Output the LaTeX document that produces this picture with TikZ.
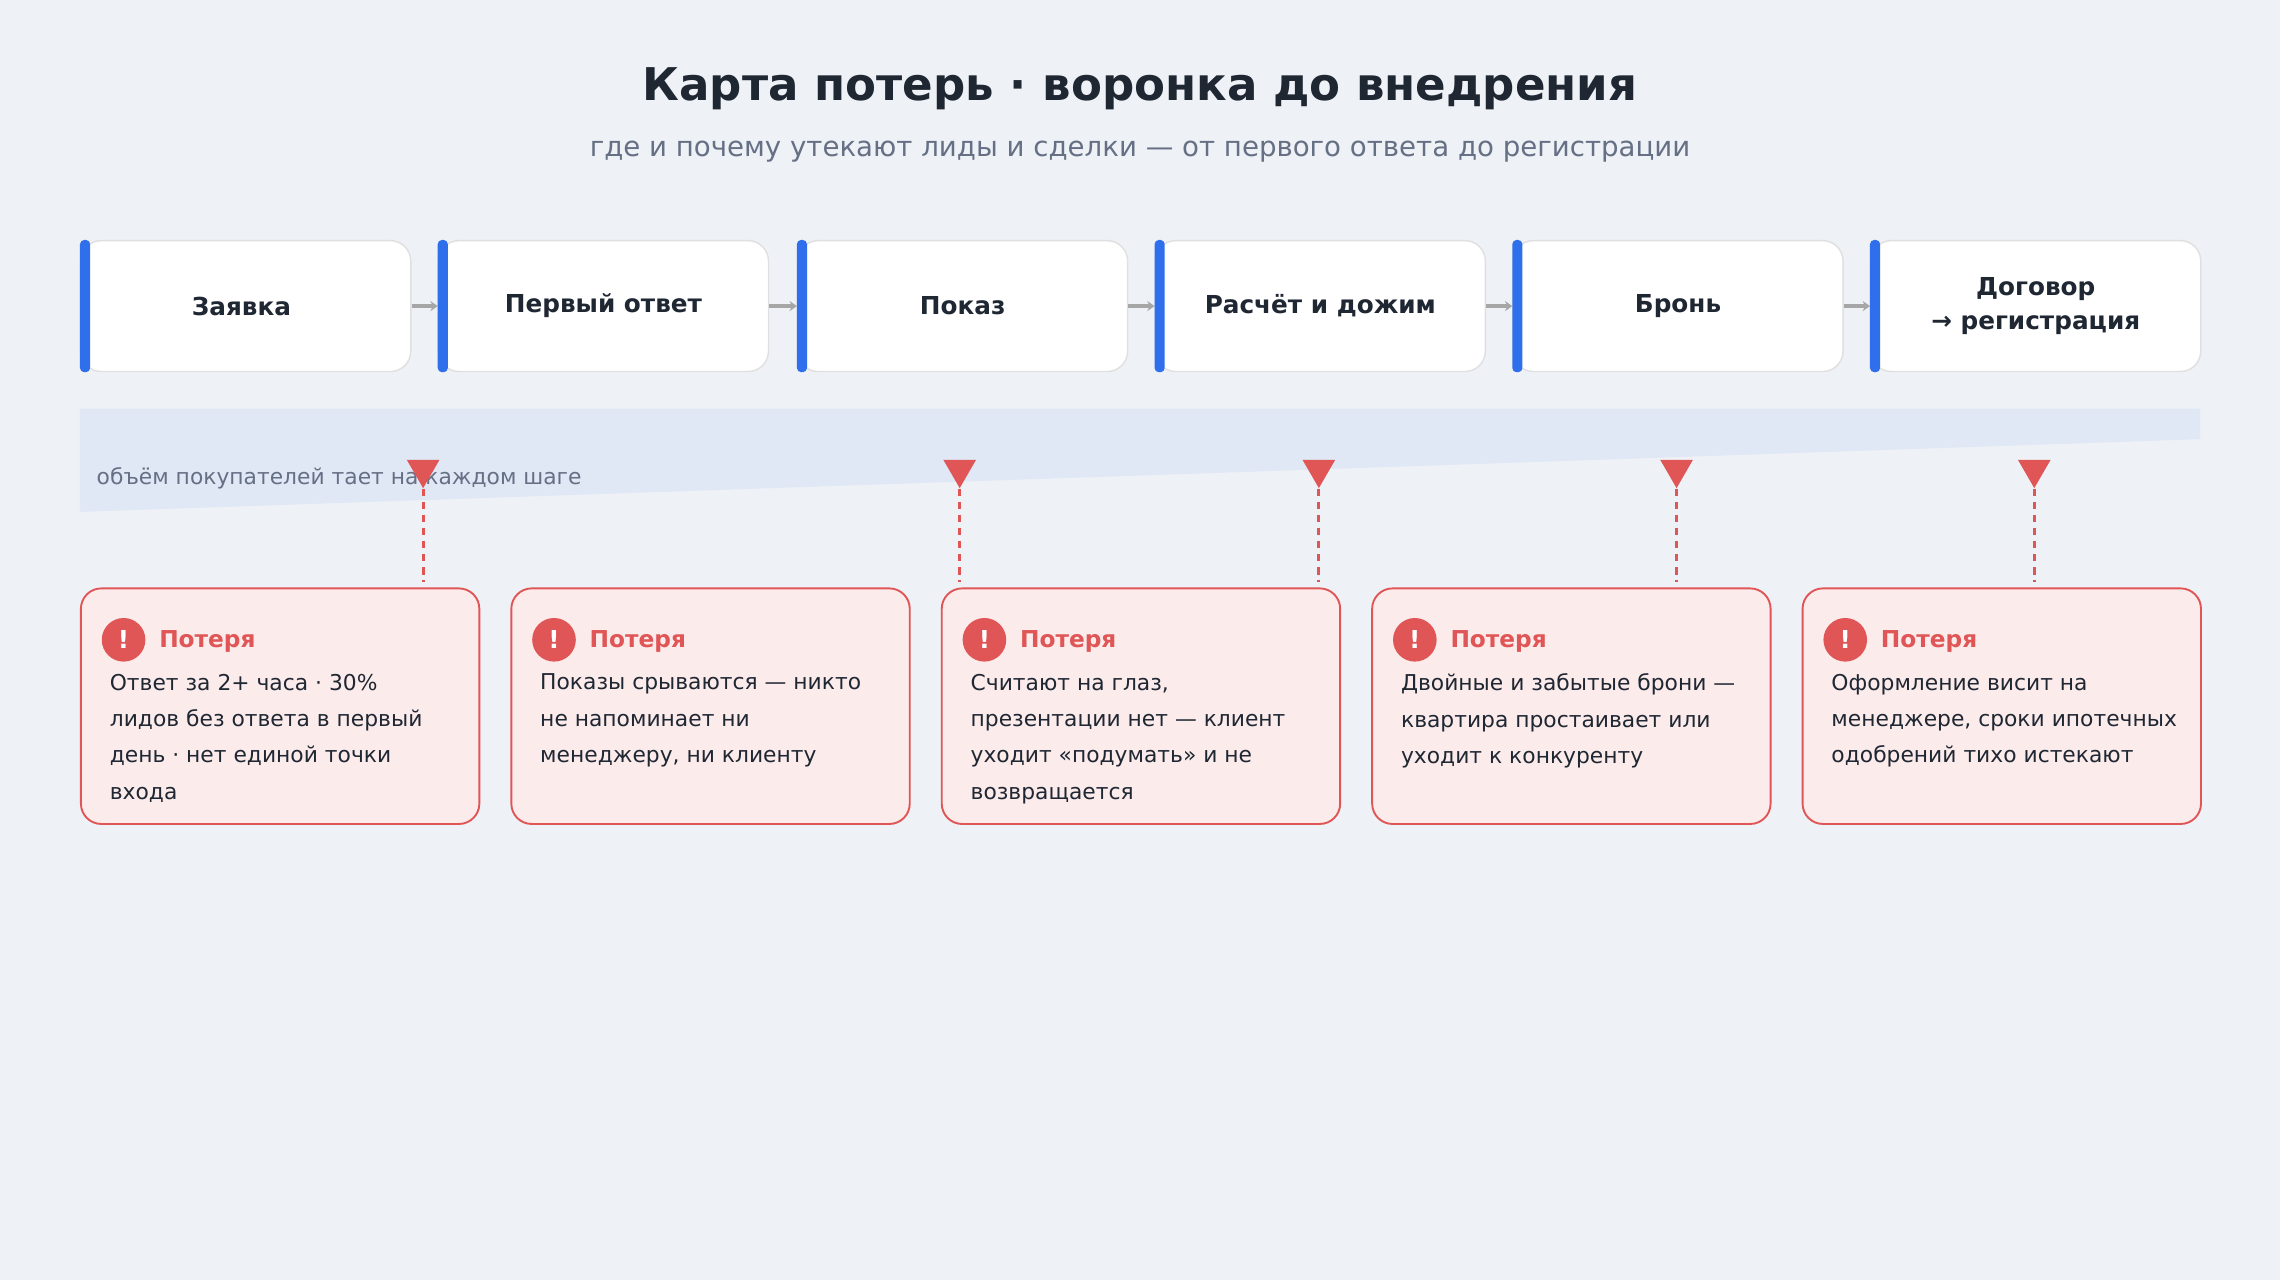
\documentclass[tikz,border=0pt]{standalone}
\usepackage{fontspec}
\setmainfont{DejaVu Sans}
\usetikzlibrary{arrows.meta,shapes.geometric}
\begin{document}
\begin{tikzpicture}[x=1pt,y=-1pt,
  stepbox/.style={draw=black!12,fill=white,rounded corners=14pt,line width=1pt,minimum width=227pt,minimum height=90pt,anchor=north west,font=\fontsize{17}{24}\selectfont\bfseries,text=txt,align=center},
  bluebar/.style={fill=blueb,rounded corners=3pt},
  stepconn/.style={draw=gray!70,line width=2.5pt,-{Stealth[length=5pt,width=7pt]}},
  losscard/.style={draw=lred,fill=lpink,rounded corners=14pt,line width=1.3pt,minimum width=274pt,minimum height=162pt,anchor=north west},
  lossbody/.style={anchor=north west,align=left,font=\fontsize{15}{25}\selectfont,text=txt},
  lossmark/.style={fill=lred,regular polygon,regular polygon sides=3,shape border rotate=180,inner sep=0pt,minimum size=26pt,anchor=north},
  lossdash/.style={draw=lred,line width=2pt,dash pattern=on 5pt off 4pt}]
\definecolor{bg}{HTML}{EEF1F6}
\definecolor{txt}{HTML}{1F2733}
\definecolor{sub}{HTML}{667085}
\definecolor{blueb}{HTML}{2F6FEB}
\definecolor{lred}{HTML}{E05555}
\definecolor{lpink}{HTML}{FCEBEB}
\definecolor{fun}{HTML}{E0E7F5}
\fill[bg] (0,0) rectangle (1568,880);
\useasboundingbox (0,0) rectangle (1568,880);
\node (title) at (784,61) {\fontsize{31}{36}\selectfont\bfseries\color{txt}Карта потерь · воронка до внедрения};
\node (subt) at (784,104) {\fontsize{19}{24}\selectfont\color{sub}где и почему утекают лиды и сделки — от первого ответа до регистрации};
% funnel
\fill[fun] (55,281) -- (1513,281) -- (1513,302) -- (55,352) -- cycle;
\node[anchor=west,text=sub,font=\fontsize{15}{18}\selectfont] (ftxt) at (63,329) {объём покупателей тает на каждом шаге};
% steps
\foreach \i/\x/\t in {1/55/Заявка / лид,2/301/Первый ответ,3/548/Показ,4/794/Расчёт и дожим,5/1040/Бронь,6/1286/{Договор\\→ регистрация}}{
  \node[stepbox] (s\i) at (\x,165) {\t};
}
\foreach \a/\b in {1/2,2/3,3/4,4/5,5/6}{\draw[stepconn] (s\a.east) -- (s\b.west);}
\foreach \i in {1,...,6}{\fill[bluebar] (s\i.north west) rectangle ([xshift=7pt]s\i.south west);}
% losses
\foreach \i/\x/\mx/\t in {1/55/291/{Ответ за 2+ часа · 30\%\\лидов без ответа в первый\\день · нет единой точки\\входа},
  2/351/660/{Показы срываются — никто\\не напоминает ни\\менеджеру, ни клиенту},
  3/647/907/{Считают на глаз,\\презентации нет — клиент\\уходит «подумать» и не\\возвращается},
  4/943/1153/{Двойные и забытые брони —\\квартира простаивает или\\уходит к конкуренту},
  5/1239/1399/{Оформление висит на\\менеджере, сроки ипотечных\\одобрений тихо истекают}}{
  \node[losscard] (l\i) at (\x,404) {};
  \node[lossmark] (m\i) at (\mx,316) {};
  \coordinate (d\i) at (\mx,400);
  \draw[lossdash] (m\i.south) -- (d\i);
  \node[circle,fill=lred,minimum size=30pt,inner sep=0pt,text=white,font=\fontsize{17}{17}\selectfont\bfseries] (c\i) at (\x+30,440) {!};
  \node[anchor=west,text=lred,font=\fontsize{16}{18}\selectfont\bfseries] (h\i) at (\x+51,441) {Потеря};
  \node[lossbody] (b\i) at (\x+17,460) {\t};
}
\end{tikzpicture}
\end{document}
